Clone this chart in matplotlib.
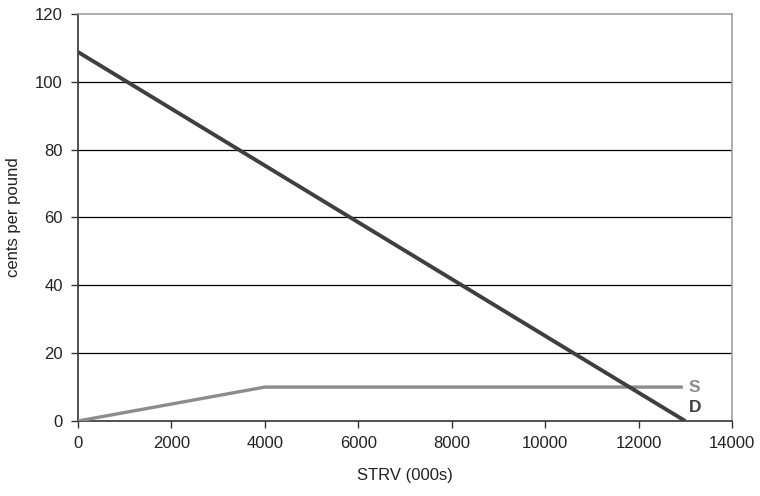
import matplotlib
matplotlib.use("Agg")
import matplotlib.pyplot as plt

plt.rcParams['font.family'] = ['Liberation Sans', 'DejaVu Sans']

# Demand and supply schedules
demand_x = [0, 13000]
demand_y = [108.8, 0]
supply_x = [0, 4000, 12950]
supply_y = [0, 10, 10]

x_ticks = [0, 2000, 4000, 6000, 8000, 10000, 12000, 14000]
y_ticks = [0, 20, 40, 60, 80, 100, 120]

fig = plt.figure(figsize=(7.6, 4.96), dpi=100)
ax = fig.add_axes([0.1026, 0.1512, 0.8605, 0.8206])

for y in y_ticks[1:-1]:
    ax.axhline(y, color='black', lw=0.9, zorder=1)

ax.plot(supply_x, supply_y, color='#8c8c8c', lw=2.4, solid_capstyle='butt', zorder=3)
ax.plot(demand_x, demand_y, color='#3f3f3f', lw=2.8, solid_capstyle='butt', zorder=4)

ax.text(13080, 10, 'S', color='#8c8c8c', fontsize=12.5, fontweight='bold',
        ha='left', va='center')
ax.text(13080, 4, 'D', color='#3f3f3f', fontsize=12.5, fontweight='bold',
        ha='left', va='center')

ax.set_xlim(0, 14000)
ax.set_ylim(0, 120)
ax.set_xticks(x_ticks)
ax.set_yticks(y_ticks)
ax.tick_params(direction='out', length=5, width=1, color='#333333',
               labelsize=12, labelcolor='#222222', pad=6)

for side in ('left', 'bottom'):
    ax.spines[side].set_color('#333333')
    ax.spines[side].set_linewidth(1.2)
for side in ('top', 'right'):
    ax.spines[side].set_color('#a0a0a0')
    ax.spines[side].set_linewidth(1.2)

ax.set_xlabel('STRV (000s)', fontsize=12, color='#222222', va='center')
ax.set_ylabel('cents per pound', fontsize=12, color='#222222', va='center')
ax.xaxis.set_label_coords(0.5, -0.133)
ax.yaxis.set_label_coords(-0.098, 0.5)

fig.savefig('out.png', dpi=100)
